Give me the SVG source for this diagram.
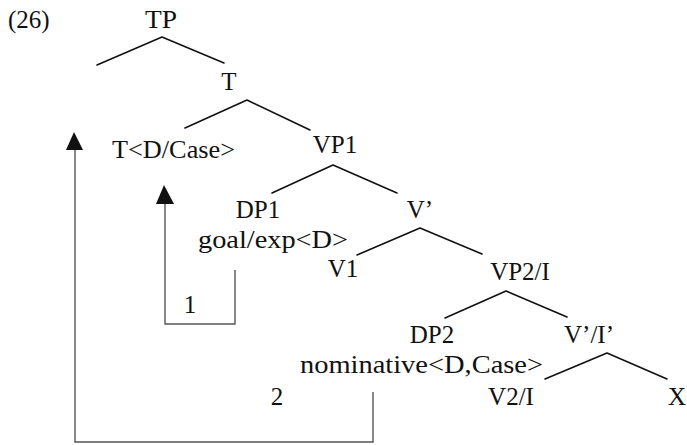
<svg xmlns="http://www.w3.org/2000/svg" width="687" height="445" viewBox="0 0 687 445" font-family="'Liberation Serif', 'DejaVu Serif', serif">
<style>
text{font-family:'Liberation Serif','DejaVu Serif',serif;font-size:25px;fill:#111}
.m{text-anchor:middle}
.e{stroke:#111;stroke-width:1.6;fill:none;stroke-linecap:round}
.a{stroke:#555;stroke-width:1.4;fill:none}
.h{fill:#111}
</style>
<rect width="687" height="445" fill="#fff"/>
<text x="8" y="28">(26)</text>
<g id="connectors">
<path class="e" d="M162,37 L97,65 M162,37 L224,63"/>
<path class="e" d="M247,100 L185,128 M247,100 L310,130"/>
<path class="e" d="M333,165 L272,193 M333,165 L397,193"/>
<path class="e" d="M420,228 L357,255 M420,228 L482,254"/>
<path class="e" d="M506,291 L445,318 M506,291 L567,317"/>
<path class="e" d="M607,353 L545,379 M607,353 L667,379"/>
</g>
<g id="arrow1">
<path class="a" d="M235,270 V324 H165 V203"/>
<polygon class="h" points="164,185 156,204 174,204"/>
<text x="190" y="313" class="m">1</text>
</g>
<g id="arrow2">
<path class="a" d="M373,392 V442 H75 V149"/>
<polygon class="h" points="74,132 66,150 83,150"/>
<text x="277" y="405" class="m">2</text>
</g>
<g id="TP"><text x="161" y="28" class="m" textLength="32" lengthAdjust="spacingAndGlyphs">TP</text></g>
<g id="T"><text x="229" y="90" class="m">T</text></g>
<g id="T-D-Case"><text x="112" y="158" textLength="123" lengthAdjust="spacingAndGlyphs">T&lt;D/Case&gt;</text></g>
<g id="VP1"><text x="335" y="153" class="m">VP1</text></g>
<g id="DP1"><text x="258" y="218" class="m">DP1</text><text x="198" y="248" textLength="150" lengthAdjust="spacingAndGlyphs">goal/exp&lt;D&gt;</text></g>
<g id="Vbar"><text x="420" y="218" class="m">V’</text></g>
<g id="V1"><text x="343" y="277" class="m">V1</text></g>
<g id="VP2-I"><text x="520" y="280" class="m">VP2/I</text></g>
<g id="DP2"><text x="432" y="343" class="m">DP2</text><text x="300" y="373" textLength="243" lengthAdjust="spacingAndGlyphs">nominative&lt;D,Case&gt;</text></g>
<g id="Vbar-Ibar"><text x="589" y="343" class="m">V’/I’</text></g>
<g id="V2-I"><text x="511" y="405" class="m">V2/I</text></g>
<g id="X"><text x="677" y="405" class="m">X</text></g>
</svg>
